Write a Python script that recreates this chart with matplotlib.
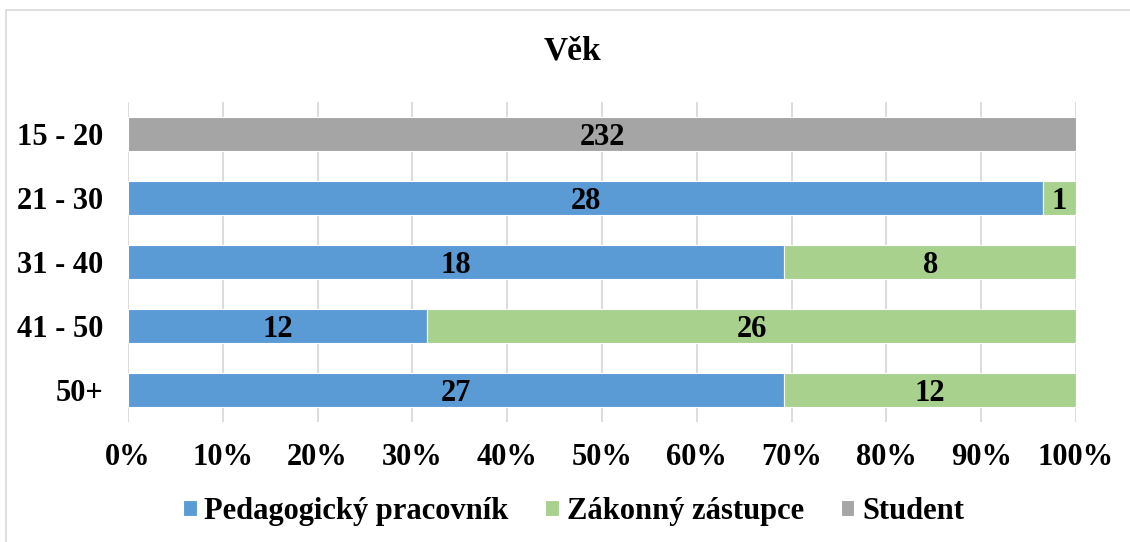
import numpy as np
import matplotlib
matplotlib.use("Agg")
import matplotlib.pyplot as plt
from matplotlib.patches import Rectangle

plt.rcParams["font.family"] = ["Liberation Serif", "DejaVu Serif"]
plt.rcParams["font.weight"] = "bold"

# ---------- data ----------
AGE_GROUPS = ["15 - 20", "21 - 30", "31 - 40", "41 - 50", "50+"]
PEDAGOG = [0, 28, 18, 12, 27]
ZASTUPCE = [0, 1, 8, 26, 12]
STUDENT = [232, 0, 0, 0, 0]
SERIES = ["Pedagogický pracovník", "Zákonný zástupce", "Student"]
COLORS = ["#5B9BD5", "#A9D18E", "#A5A5A5"]

counts = np.array([PEDAGOG, ZASTUPCE, STUDENT], dtype=float)
totals = counts.sum(axis=0)
shares = counts / totals

FS = 22

fig = plt.figure(figsize=(11.3, 5.42), dpi=100)
ax = fig.add_axes([128 / 1130, 120 / 542, 948 / 1130, 320 / 542])

# light frame of the chart area (only top/left edges visible in the crop)
fig.patches.append(Rectangle((6 / 1130, -0.1), 1.2, 1.1 - 10 / 542,
                             transform=fig.transFigure, fill=False,
                             edgecolor="#D9D9D9", lw=1.2))

y = np.arange(len(AGE_GROUPS))
left = np.zeros(len(AGE_GROUPS))
for name, col, share, cnt in zip(SERIES, COLORS, shares, counts):
    bars = ax.barh(y, share, left=left, height=0.53, color=col,
                   edgecolor="white", linewidth=0.8, label=name, zorder=3)
    for b, c in zip(bars, cnt):
        if c > 0:
            ax.text(b.get_x() + b.get_width() / 2, b.get_y() + b.get_height() / 2,
                    f"{int(c)}", ha="center", va="center_baseline", fontsize=FS,
                    fontweight="bold", zorder=4)
    left += share

ax.set_ylim(len(AGE_GROUPS) - 0.5, -0.5)
ax.set_xlim(0, 1)
ax.set_yticks(y)
ax.set_yticklabels(AGE_GROUPS, fontsize=FS, fontweight="bold")
ax.set_xticks(np.linspace(0, 1, 11))
ax.set_xticklabels([f"{int(v)}%" for v in np.linspace(0, 100, 11)],
                   fontsize=FS, fontweight="bold")
ax.tick_params(axis="y", length=0, pad=18)
ax.tick_params(axis="x", length=0, pad=15)
ax.grid(axis="x", color="#D9D9D9", lw=1.3, zorder=0)
for sp in ax.spines.values():
    sp.set_visible(False)

fig.text(0.507, 0.905, "Věk", ha="center", va="center", fontsize=24,
         fontweight="bold")

ax.legend(loc="center", bbox_to_anchor=(0.47, -0.28), ncol=3, frameon=False,
          fontsize=FS, handlelength=0.45, handleheight=0.45, handletextpad=0.25,
          columnspacing=1.2, borderpad=0)

fig.savefig("out.png", dpi=100)
